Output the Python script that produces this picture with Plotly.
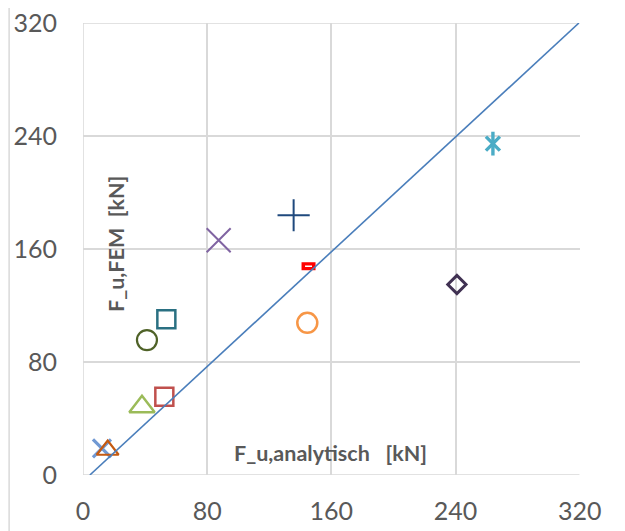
import plotly.graph_objects as go

# Data (kN)
names = ["blue_x", "orange_tri", "green_tri", "red_sq", "olive_circ", "teal_sq",
         "orange_circ", "red_dash", "purple_x", "navy_plus", "purple_dia", "cyan_star"]
x_analytisch = [12.2, 15.9, 38.0, 52.4, 41.2, 53.7, 144.5, 145.3, 87.4, 135.7, 240.9, 264.1]
y_fem = [18.9, 17.7, 48.3, 55.4, 95.5, 110.3, 107.7, 147.8, 166.2, 183.9, 134.9, 234.6]

line_x = [4.5, 325.5]
line_y = [0, 320]

tick_vals = [0, 80, 160, 240, 320]
tick_text = ["0", "80", "160", "240", "320"]


def mk(symbol, size, color, width):
    return dict(symbol=symbol, size=size, color=color, line=dict(color=color, width=width))


styles = {
    "blue_x": [mk("x-thin-open", 18, "#7199D3", 3.2)],
    "orange_tri": [mk("triangle-up-open", 19, "#C55A11", 2.2)],
    "green_tri": [mk("triangle-up-open", 22, "#9BBB59", 2.5)],
    "red_sq": [mk("square-open", 18, "#C0504D", 2.5)],
    "olive_circ": [mk("circle-open", 20, "#4F6228", 2.2)],
    "teal_sq": [mk("square-open", 18, "#2A7082", 2.5)],
    "orange_circ": [mk("circle-open", 20, "#F79646", 2.5)],
    "red_dash": [mk("line-ew-open", 10, "#FF0000", 8),
                 mk("line-ew-open", 5, "#FFFFFF", 1.5)],
    "purple_x": [mk("x-thin-open", 24, "#8064A2", 2)],
    "navy_plus": [mk("cross-thin-open", 23, "#1F497D", 2)],
    "purple_dia": [mk("diamond-open", 14, "#403152", 3)],
    "cyan_star": [mk("x-thin-open", 14, "#4BACC6", 3.4),
                  mk("line-ns-open", 17, "#4BACC6", 3.4)],
}

fig = go.Figure()

# reference line on an overlay x-axis so it can extend slightly past 320
fig.add_trace(go.Scatter(x=line_x, y=line_y, mode="lines", xaxis="x2", yaxis="y",
                         line=dict(color="#4A7EBB", width=1.6), hoverinfo="skip"))

for n, xv, yv in zip(names, x_analytisch, y_fem):
    for m in styles[n]:
        fig.add_trace(go.Scatter(x=[xv], y=[yv], mode="markers", marker=m, cliponaxis=False))

grid = "#D9D9D9"
tick_font = dict(family="Lato, Carlito, sans-serif", size=25, color="#595959")
title_font = dict(family="Lato, sans-serif", size=21.5, color="#595959", weight="bold")
ext = 326.0
nb = "\u00a0"
fig.update_layout(
    width=625, height=531,
    margin=dict(l=74.7, r=44.2, t=14.7, b=64),
    paper_bgcolor="white", plot_bgcolor="white",
    showlegend=False,
    xaxis=dict(range=[0, 320], domain=[0, 320 / ext], tickvals=tick_vals, ticktext=tick_text,
               showgrid=True, gridcolor=grid, gridwidth=1.5, zeroline=False, automargin=False,
               showline=False, ticks="", tickfont=tick_font, ticklabelstandoff=19,
               ticklabeloverflow="allow"),
    xaxis2=dict(range=[0, ext], domain=[0, 1], overlaying="x", visible=False, automargin=False),
    yaxis=dict(range=[0, 320], tickvals=tick_vals, ticktext=tick_text,
               showgrid=True, gridcolor=grid, gridwidth=1.5, zeroline=False, automargin=False,
               showline=False, ticks="", tickfont=tick_font, ticklabelstandoff=25,
               ticklabeloverflow="allow"),
    shapes=[dict(type="line", xref="paper", yref="paper", x0=-0.146, x1=-0.146, y0=-0.2, y1=1.1,
                 line=dict(color=grid, width=1.5)),
            dict(type="line", xref="x", yref="y", x0=0, x1=0, y0=0, y1=320, line=dict(color=grid, width=1.5), layer="below"),
            dict(type="line", xref="x", yref="y", x0=0, x1=320, y0=0, y1=0, line=dict(color=grid, width=1.5), layer="below"),
            dict(type="line", xref="x", yref="y", x0=0, x1=320, y0=320, y1=320, line=dict(color=grid, width=1.5), layer="below")],
    annotations=[
        dict(x=21.4, y=163.7, xref="x", yref="y", text="F_u,FEM" + nb * 2 + "[kN]", textangle=-90, showarrow=False,
             font=title_font),
        dict(x=159.6, y=15.6, xref="x", yref="y", text="F_u,analytisch" + nb * 3 + "[kN]", showarrow=False,
             font=title_font),
    ],
)

fig.write_html("out.html")
